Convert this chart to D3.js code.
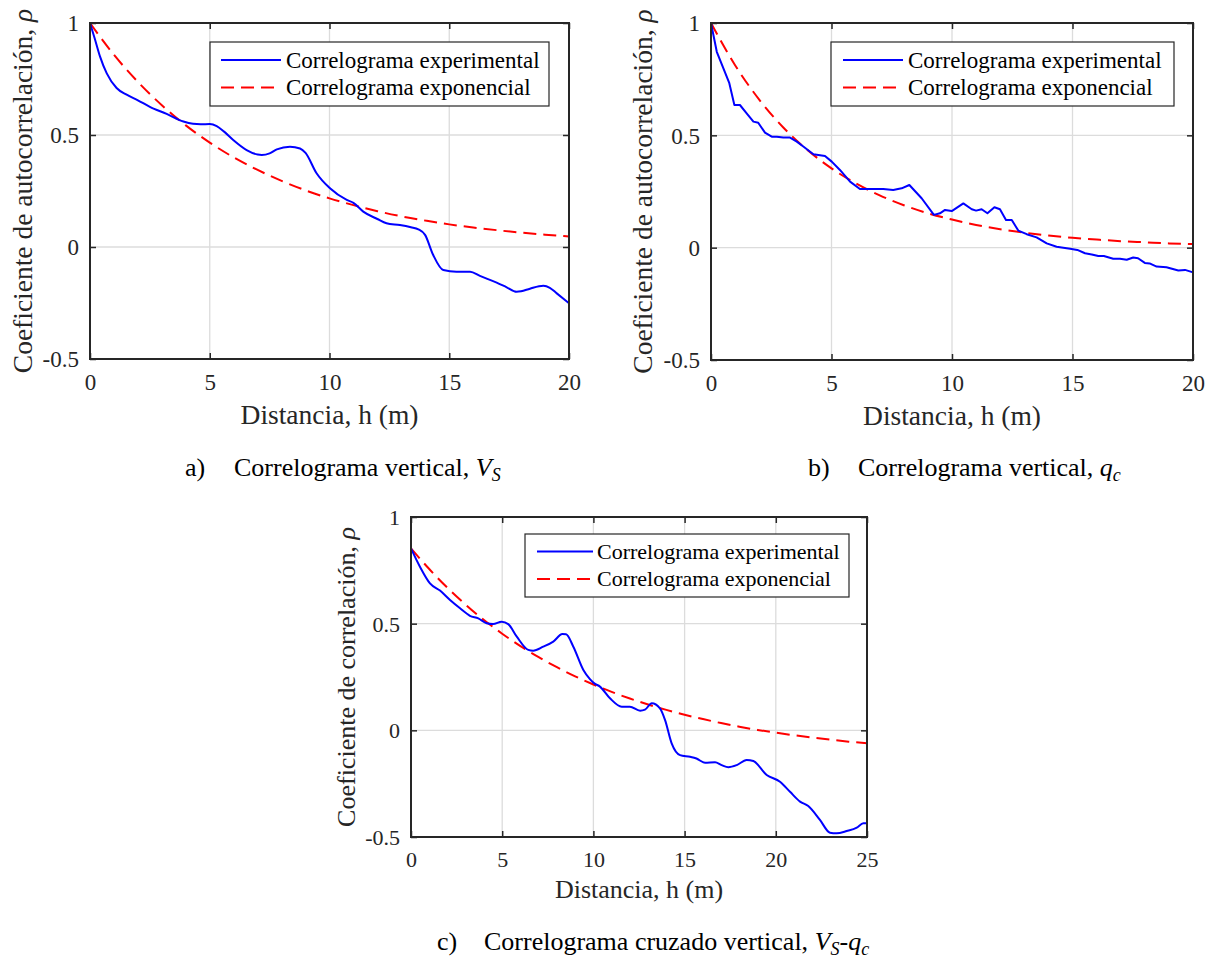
<!DOCTYPE html>
<html>
<head>
<meta charset="utf-8">
<script src="https://cdn.jsdelivr.net/npm/d3@7"></script>
<style>
  html, body { margin: 0; padding: 0; background: #fff; }
  svg { display: block; }
</style>
</head>
<body>
<svg id="fig" width="1210" height="964" font-family="Liberation Serif, Times New Roman, serif"></svg>
<script>
// ---- Data: lag distance h (m) and correlation values ----

// a) vertical correlogram, Vs
const hExpA = [0, 0.2, 0.42, 0.7, 1.11, 1.53, 2.0, 2.5, 3.2, 3.9, 4.3, 4.62, 5.0, 5.29, 5.6, 5.98, 6.54, 7.0, 7.17, 7.5, 7.8, 8.35, 8.77, 9.0, 9.46, 10.02, 10.72, 11.0, 11.41, 12.0, 12.38, 12.94, 13.4, 13.71, 13.99, 14.33, 14.75, 15.3, 15.87, 16.28, 16.98, 17.4, 17.81, 18.0, 18.37, 18.93, 19.2, 19.49, 20];
const rhoExpA = [1.0, 0.93, 0.85, 0.775, 0.71, 0.68, 0.655, 0.626, 0.594, 0.56, 0.55, 0.548, 0.549, 0.54, 0.515, 0.478, 0.433, 0.413, 0.411, 0.418, 0.436, 0.448, 0.44, 0.42, 0.329, 0.262, 0.21, 0.197, 0.158, 0.125, 0.106, 0.098, 0.088, 0.079, 0.054, -0.036, -0.103, -0.11, -0.11, -0.129, -0.159, -0.18, -0.2, -0.198, -0.186, -0.173, -0.182, -0.207, -0.251];
const hModA = [0, 1, 2, 3, 4, 5, 6, 7, 8, 9, 10, 11, 12, 13, 14, 15, 16, 17, 18, 19, 20];
const rhoModA = [1.0, 0.858, 0.737, 0.633, 0.543, 0.466, 0.400, 0.344, 0.295, 0.253, 0.217, 0.187, 0.160, 0.137, 0.118, 0.101, 0.087, 0.075, 0.064, 0.055, 0.047];

// b) vertical correlogram, qc
const hExpB = [0, 0.24, 0.76, 0.97, 1.2, 1.48, 1.76, 1.96, 2.24, 2.52, 2.73, 3.0, 3.28, 3.56, 3.83, 4.25, 4.73, 5.01, 5.35, 5.77, 6.18, 6.73, 7.15, 7.56, 7.91, 8.23, 8.74, 9.25, 9.5, 9.71, 9.99, 10.47, 10.82, 11.0, 11.23, 11.47, 11.76, 11.99, 12.24, 12.48, 12.75, 13.1, 13.51, 13.93, 14.34, 14.9, 15.2, 15.52, 15.8, 16.07, 16.3, 16.69, 16.97, 17.25, 17.52, 17.72, 18.0, 18.2, 18.49, 18.9, 19.39, 19.67, 20];
const rhoExpB = [1.0, 0.872, 0.732, 0.635, 0.635, 0.598, 0.561, 0.556, 0.512, 0.494, 0.494, 0.49, 0.49, 0.472, 0.45, 0.416, 0.408, 0.383, 0.346, 0.294, 0.261, 0.261, 0.261, 0.257, 0.264, 0.279, 0.22, 0.146, 0.153, 0.168, 0.163, 0.197, 0.171, 0.165, 0.171, 0.153, 0.18, 0.171, 0.123, 0.123, 0.076, 0.06, 0.046, 0.019, 0.004, -0.005, -0.01, -0.025, -0.03, -0.037, -0.037, -0.049, -0.049, -0.054, -0.044, -0.047, -0.068, -0.07, -0.084, -0.087, -0.102, -0.099, -0.11];
const hModB = [0, 1, 2, 3, 4, 5, 6, 7, 8, 9, 10, 11, 12, 13, 14, 15, 16, 17, 18, 19, 20];
const rhoModB = [1.0, 0.812, 0.659, 0.535, 0.435, 0.353, 0.287, 0.233, 0.189, 0.153, 0.125, 0.101, 0.082, 0.067, 0.054, 0.044, 0.036, 0.029, 0.024, 0.019, 0.016];

// c) vertical cross-correlogram, Vs-qc
const hExpC = [0, 0.49, 1.04, 1.59, 2.14, 2.69, 3.23, 3.69, 4.15, 4.5, 4.97, 5.33, 5.8, 6.43, 6.7, 7.25, 7.8, 8.3, 8.5, 8.9, 9.45, 9.81, 10.05, 10.36, 10.91, 11.55, 12.0, 12.56, 12.83, 13.2, 13.65, 13.93, 14.29, 14.75, 15.3, 15.65, 16.12, 16.67, 17.03, 17.4, 17.86, 18.4, 18.77, 19.5, 20.23, 20.78, 21.33, 21.78, 22.42, 22.97, 23.33, 23.89, 24.44, 24.8, 25];
const rhoExpC = [0.853, 0.767, 0.689, 0.655, 0.611, 0.572, 0.537, 0.525, 0.502, 0.498, 0.509, 0.498, 0.439, 0.377, 0.373, 0.392, 0.416, 0.451, 0.45, 0.392, 0.283, 0.24, 0.22, 0.205, 0.15, 0.111, 0.111, 0.092, 0.097, 0.127, 0.103, 0.048, -0.061, -0.116, -0.124, -0.132, -0.152, -0.15, -0.163, -0.173, -0.163, -0.139, -0.144, -0.209, -0.241, -0.288, -0.334, -0.355, -0.42, -0.48, -0.483, -0.472, -0.456, -0.436, -0.436];
const hModC = [0, 1, 2, 3, 4, 5, 6, 7, 8, 9, 10, 11, 12, 13, 14, 15, 16, 17, 18, 19, 20, 21, 22, 23, 24, 25];
const rhoModC = [0.853, 0.756, 0.668, 0.589, 0.517, 0.453, 0.395, 0.343, 0.296, 0.253, 0.215, 0.180, 0.149, 0.121, 0.096, 0.073, 0.053, 0.034, 0.017, 0.002, -0.011, -0.023, -0.034, -0.044, -0.053, -0.061];

// Axis ticks and labels
const xTicks20 = [0, 5, 10, 15, 20];
const xTicks25 = [0, 5, 10, 15, 20, 25];
const yTicks = [-0.5, 0, 0.5, 1];
const xLabel = "Distancia, h (m)";
const legendLabels = ["Correlograma experimental", "Correlograma exponencial"];

// ---- Drawing ----
const svg = d3.select("#fig");
const INK = "#262626";
const SERIF = "Liberation Serif, Times New Roman, serif";

function zip(hs, vs) { return hs.map((h, i) => ({ h, v: vs[i] })); }

function drawPanel(p) {
  const g = svg.append("g");
  const x = d3.scaleLinear().domain([0, p.xMax]).range([p.x0, p.x1]);
  const y = d3.scaleLinear().domain([-0.5, 1]).range([p.y1, p.y0]);

  // grid
  const grid = g.append("g").attr("stroke", "#dcdcdc").attr("stroke-width", 1.3);
  grid.selectAll("line.gx").data(p.xTicks.slice(1, -1)).join("line")
    .attr("x1", d => x(d)).attr("x2", d => x(d)).attr("y1", p.y0).attr("y2", p.y1);
  grid.selectAll("line.gy").data(yTicks.slice(1, -1)).join("line")
    .attr("y1", d => y(d)).attr("y2", d => y(d)).attr("x1", p.x0).attr("x2", p.x1);

  // series
  const lineSmooth = d3.line().x(d => x(d.h)).y(d => y(d.v)).curve(d3.curveMonotoneX);
  const lineExp = d3.line().x(d => x(d.h)).y(d => y(d.v)).curve(p.jagged ? d3.curveLinear : d3.curveMonotoneX);
  g.append("path").datum(zip(p.hMod, p.rhoMod))
    .attr("d", lineSmooth).attr("fill", "none")
    .attr("stroke", "#ff0000").attr("stroke-width", 2).attr("stroke-dasharray", "13,7");
  g.append("path").datum(zip(p.hExp, p.rhoExp))
    .attr("d", lineExp).attr("fill", "none")
    .attr("stroke", "#0000ff").attr("stroke-width", 2).attr("stroke-linejoin", "round");

  // axes with inward ticks on all four sides
  const fmt = d => String(d);
  const tk = 6;
  const bottom = g.append("g").attr("transform", `translate(0,${p.y1})`)
    .call(d3.axisBottom(x).tickValues(p.xTicks).tickFormat(fmt).tickSizeInner(-tk).tickSizeOuter(0));
  const left = g.append("g").attr("transform", `translate(${p.x0},0)`)
    .call(d3.axisLeft(y).tickValues(yTicks).tickFormat(fmt).tickSizeInner(-tk).tickSizeOuter(0));
  const top = g.append("g").attr("transform", `translate(0,${p.y0})`)
    .call(d3.axisTop(x).tickValues(p.xTicks).tickFormat(null).tickSizeInner(-tk).tickSizeOuter(0));
  const right = g.append("g").attr("transform", `translate(${p.x1},0)`)
    .call(d3.axisRight(y).tickValues(yTicks).tickFormat(null).tickSizeInner(-tk).tickSizeOuter(0));
  top.selectAll(".tick text").remove();
  right.selectAll(".tick text").remove();
  [bottom, left, top, right].forEach(a => {
    a.attr("font-family", SERIF).attr("font-size", p.tickFont);
    a.select(".domain").remove();
    a.selectAll(".tick line").attr("stroke", INK).attr("stroke-width", 1.5);
  });
  bottom.selectAll(".tick text")
    .attr("y", p.tickGap).attr("dy", null).attr("fill", INK);
  left.selectAll(".tick text")
    .attr("x", -11).attr("dy", null).attr("y", p.tickFont * 0.34).attr("fill", INK);

  // frame
  g.append("rect").attr("x", p.x0).attr("y", p.y0)
    .attr("width", p.x1 - p.x0).attr("height", p.y1 - p.y0)
    .attr("fill", "none").attr("stroke", INK).attr("stroke-width", 2);

  // axis titles
  g.append("text").attr("x", (p.x0 + p.x1) / 2).attr("y", p.xLabelY)
    .attr("text-anchor", "middle").attr("font-size", p.labelFont).attr("fill", INK)
    .text(xLabel);
  const yl = g.append("text")
    .attr("transform", `translate(${p.yLabelX},${(p.y0 + p.y1) / 2}) rotate(-90)`)
    .attr("text-anchor", "middle").attr("font-size", p.labelFont).attr("fill", INK);
  yl.append("tspan").text(p.yLabel);
  yl.append("tspan").attr("font-style", "italic").text("ρ");

  // legend
  const lg = g.append("g");
  lg.append("rect").attr("x", p.legend[0]).attr("y", p.legend[1])
    .attr("width", p.legend[2] - p.legend[0]).attr("height", p.legend[3] - p.legend[1])
    .attr("fill", "#fff").attr("stroke", INK).attr("stroke-width", 1.2);
  const styles = [{ c: "#0000ff", dash: null }, { c: "#ff0000", dash: "13,7" }];
  legendLabels.forEach((lab, i) => {
    const ly = p.legend[1] + p.rowY[i];
    lg.append("line")
      .attr("x1", p.legend[0] + p.sample[0]).attr("x2", p.legend[0] + p.sample[1])
      .attr("y1", ly).attr("y2", ly)
      .attr("stroke", styles[i].c).attr("stroke-width", 2)
      .attr("stroke-dasharray", styles[i].dash);
    lg.append("text").attr("x", p.legend[0] + p.textDx).attr("y", ly + p.legendFont * 0.34)
      .attr("font-size", p.legendFont).attr("fill", "#000").text(lab);
  });

  // caption with italic subscripted variables
  const cap = g.append("g").attr("font-size", 26).attr("fill", "#000");
  cap.append("text").attr("x", p.capX[0]).attr("y", p.capY).text(p.capTag);
  const ct = cap.append("text").attr("x", p.capX[1]).attr("y", p.capY);
  ct.append("tspan").text(p.capText);
  let lowered = false;
  p.capVars.forEach(v => {
    if (v.sep) {
      ct.append("tspan").attr("font-style", "italic").attr("dy", lowered ? -5 : null).text(v.sep);
      lowered = false;
    }
    ct.append("tspan").attr("font-style", "italic").attr("dy", lowered ? -5 : null).text(v.base);
    ct.append("tspan").attr("font-style", "italic").attr("font-size", 18).attr("dy", 5).text(v.sub);
    lowered = true;
  });
}

drawPanel({
  x0: 90, x1: 569, y0: 23, y1: 359, xMax: 20, xTicks: xTicks20,
  hExp: hExpA, rhoExp: rhoExpA, hMod: hModA, rhoMod: rhoModA, jagged: false,
  tickFont: 23, tickGap: 31, labelFont: 27.5, xLabelY: 424, yLabelX: 32,
  yLabel: "Coeficiente de autocorrelación, ",
  legend: [210, 42, 549, 106], rowY: [18, 45.5], sample: [11, 71], textDx: 76, legendFont: 23,
  capTag: "a)", capText: "Correlograma vertical, ", capX: [185, 234], capY: 476,
  capVars: [{ base: "V", sub: "S" }]
});

drawPanel({
  x0: 711, x1: 1193, y0: 23, y1: 360, xMax: 20, xTicks: xTicks20,
  hExp: hExpB, rhoExp: rhoExpB, hMod: hModB, rhoMod: rhoModB, jagged: true,
  tickFont: 23, tickGap: 31, labelFont: 27.5, xLabelY: 425, yLabelX: 652,
  yLabel: "Coeficiente de autocorrelación, ",
  legend: [831, 42, 1174, 106], rowY: [18, 45.5], sample: [12, 72], textDx: 77, legendFont: 23,
  capTag: "b)", capText: "Correlograma vertical, ", capX: [808, 858], capY: 476,
  capVars: [{ base: "q", sub: "c" }]
});

drawPanel({
  x0: 411, x1: 867, y0: 517, y1: 837, xMax: 25, xTicks: xTicks25,
  hExp: hExpC, rhoExp: rhoExpC, hMod: hModC, rhoMod: rhoModC, jagged: false,
  tickFont: 22, tickGap: 30, labelFont: 26, xLabelY: 898, yLabelX: 355,
  yLabel: "Coeficiente de correlación, ",
  legend: [525, 534, 849, 597], rowY: [17.5, 45], sample: [12, 68], textDx: 72, legendFont: 22,
  capTag: "c)", capText: "Correlograma cruzado vertical, ", capX: [437, 484], capY: 950,
  capVars: [{ base: "V", sub: "S" }, { sep: "-", base: "q", sub: "c" }]
});
</script>
</body>
</html>
